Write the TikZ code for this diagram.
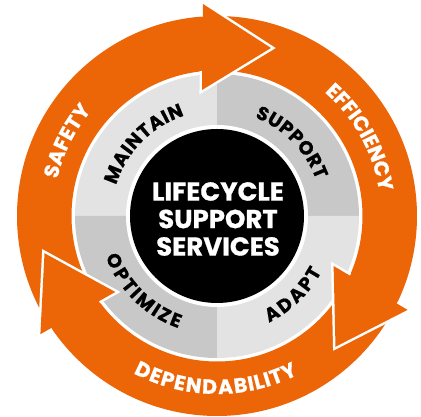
\documentclass[tikz,border=0pt]{standalone}
\usepackage{fontspec}
\newfontfamily\pop{Poppins}[BoldFeatures={FakeBold=0.8}]
\usetikzlibrary{decorations.text,calc}
\definecolor{org}{HTML}{EC6608}
\definecolor{lgr}{HTML}{E3E3E3}
\definecolor{dgr}{HTML}{C8C8C8}
\tikzset{
  graytext/.style={decorate, decoration={text effects along path, text={#1},
    text effects/.cd, text along path, fit text to path,
    characters={text=black, anchor=base, inner sep=0pt, font=\pop\bfseries\fontsize{19}{19}\selectfont}}},
  orgtext/.style={decorate, decoration={text effects along path, text={#1},
    text effects/.cd, text along path, fit text to path,
    characters={text=white, anchor=base, inner sep=0pt, font=\pop\bfseries\fontsize{20.5}{20.5}\selectfont}}},
  headline/.style={draw=white, line width=5pt, line join=miter, miter limit=10},
}
\begin{document}
\begin{tikzpicture}[x=1pt,y=1pt]
\useasboundingbox (0,0) rectangle (421,417);
\coordinate (C) at (217,201);
% gray ring quadrants
\fill[lgr] (C) -- ++(90:142) arc[start angle=90,end angle=180,radius=142] -- cycle;
\fill[dgr] (C) -- ++(0:142) arc[start angle=0,end angle=90,radius=142] -- cycle;
\fill[dgr] (C) -- ++(180:142) arc[start angle=180,end angle=270,radius=142] -- cycle;
\fill[lgr] (C) -- ++(270:142) arc[start angle=270,end angle=360,radius=142] -- cycle;
% centre disc
\fill[white] (C) circle[radius=91];
\fill[black] (C) circle[radius=87];
% orange ring
\fill[org, even odd rule] (C) circle[radius=200] (C) circle[radius=145.5];
% arrow heads
\foreach \r/\n in {0/ha,-120/hb,120/hc}{
  \begin{scope}[shift={(C)}, rotate=\r]
    \coordinate (\n-o) at (-14,212);
    \coordinate (\n-i) at (-15,126);
    \coordinate (\n-t) at (54,168);
    \coordinate (\n-pi) at (-14.8,144.8);
    \coordinate (\n-po) at (-14.2,199.5);
    \draw[headline] (\n-pi) -- (\n-i) -- (\n-t) -- (\n-o) -- (\n-po);
    \fill[org] (\n-o) -- (\n-t) -- (\n-i) -- cycle;
  \end{scope}
}
% ring labels
\path[graytext=MAINTAIN] ($(C)+(163:105.5)$) arc[start angle=163,end angle=108,radius=105.5];
\path[graytext=SUPPORT] ($(C)+(69:105.5)$) arc[start angle=69,end angle=20,radius=105.5];
\path[graytext=OPTIMIZE] ($(C)+(200:118.5)$) arc[start angle=200,end angle=251,radius=118.5];
\path[graytext=ADAPT] ($(C)+(296:118.5)$) arc[start angle=296,end angle=332,radius=118.5];
\path[orgtext=SAFETY] ($(C)+(167:164)$) arc[start angle=167,end angle=140,radius=164];
\path[orgtext=EFFICIENCY] ($(C)+(49:164)$) arc[start angle=49,end angle=8.6,radius=164];
\path[orgtext=DEPENDABILITY] ($(C)+(242:178)$) arc[start angle=242,end angle=297,radius=178];
% centre text
\node[text=white, align=center, font=\pop\bfseries\fontsize{26}{27.5}\selectfont] (title) at ($(C)+(1,-3)$) {LIFECYCLE\\SUPPORT\\SERVICES};
\end{tikzpicture}
\end{document}
